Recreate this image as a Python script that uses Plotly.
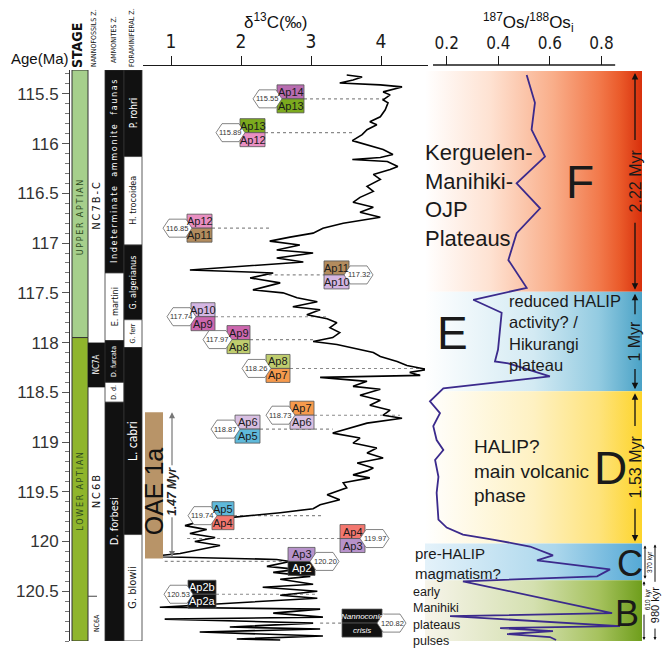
import plotly.graph_objects as go

W, H = 662, 650
SANS = "Liberation Sans, Arial, sans-serif"
NARROW = "Liberation Sans Narrow, Arial Narrow, DejaVu Sans Condensed, sans-serif"

# ---------------- data ----------------
age_ticks = [115.5, 116, 116.5, 117, 117.5, 118, 118.5, 119, 119.5, 120, 120.5]
age_labels = ["115.5", "116", "116.5", "117", "117.5", "118", "118.5", "119", "119.5", "120", "120.5"]
d13c_ticks = [1, 2, 3, 4]
os_ticks = [0.2, 0.4, 0.6, 0.8]
os_ticklabels = ["0.2", "0.4", "0.6", "0.8"]

# carbon-isotope record (age in Ma, delta13C in permil)
d13c_age = [115.31, 115.33, 115.36, 115.39, 115.41, 115.43, 115.48, 115.51, 115.56, 115.59,
            115.66, 115.73, 115.78, 115.81, 115.86, 115.91, 115.97, 116.01, 116.06, 116.11,
            116.14, 116.16, 116.18, 116.23, 116.26, 116.31, 116.36, 116.43, 116.48, 116.54,
            116.59, 116.64, 116.69, 116.74, 116.76, 116.80, 116.85, 116.90, 116.94, 116.98,
            117.02, 117.07, 117.10, 117.15, 117.19, 117.23, 117.27, 117.30, 117.35, 117.40,
            117.45, 117.47, 117.50, 117.55, 117.59, 117.64, 117.67, 117.72, 117.76, 117.80,
            117.85, 117.90, 117.95, 117.99, 118.02, 118.07, 118.10, 118.14, 118.19, 118.23,
            118.27, 118.30, 118.33, 118.35, 118.39, 118.44, 118.47, 118.53, 118.58, 118.63,
            118.68, 118.73, 118.76, 118.81, 118.86, 118.91, 118.96, 119.01, 119.06, 119.11,
            119.16, 119.21, 119.26, 119.29, 119.33, 119.36, 119.41, 119.46, 119.53, 119.58,
            119.63, 119.67, 119.71, 119.76, 119.80, 119.84, 119.88, 119.92, 119.96, 120.00,
            120.04, 120.08, 120.12, 120.15, 120.18, 120.20, 120.25, 120.28, 120.31, 120.35,
            120.38, 120.43, 120.46, 120.50, 120.54, 120.57, 120.61, 120.66, 120.68, 120.72,
            120.76, 120.78, 120.82, 120.86, 120.88, 120.91, 120.95, 120.98, 120.99]
d13c_val = [3.51, 3.73, 3.60, 3.41, 3.99, 4.30, 4.03, 4.13, 4.03, 4.10,
            4.06, 3.99, 3.84, 3.94, 3.80, 3.73, 3.59, 3.80, 4.03, 4.17,
            3.99, 3.59, 4.09, 4.24, 4.13, 3.89, 3.99, 3.80, 3.89, 3.70,
            3.60, 3.89, 3.70, 3.99, 3.80, 3.46, 3.17, 3.03, 2.70, 2.41,
            2.84, 2.51, 3.03, 2.51, 2.89, 2.09, 1.27, 2.46, 2.13, 2.56,
            2.27, 2.17, 2.60, 2.80, 3.09, 2.74, 3.13, 2.94, 3.23, 3.37,
            3.27, 3.41, 3.31, 3.03, 3.37, 3.70, 3.89, 3.99, 4.23, 4.37,
            4.66, 4.41, 4.56, 3.13, 3.80, 3.60, 3.99, 3.70, 3.99, 3.84,
            4.13, 4.03, 4.30, 3.80, 3.56, 3.31, 3.70, 3.60, 3.94, 3.80,
            4.03, 3.66, 3.89, 3.80, 3.60, 3.84, 3.46, 3.51, 3.23, 3.41,
            3.13, 3.03, 2.56, 1.84, 1.41, 1.20, 1.51, 1.27, 1.63, 1.34,
            1.70, 1.41, 1.13, 0.70, 2.51, 2.70, 2.37, 2.80, 2.46, 2.99,
            2.56, 3.03, 2.31, 3.09, 2.56, 3.09, 2.09, 0.84, 3.13, 2.46,
            3.17, 0.91, 3.03, 1.84, 3.13, 1.41, 3.17, 1.94, 2.56]

# initial osmium-isotope record
os_age = [115.31, 115.59, 115.86, 116.13, 116.40, 116.65, 116.90, 117.17, 117.45, 117.57,
          117.70, 117.90, 118.07, 118.19, 118.21, 118.34, 118.46, 118.59, 118.71, 118.84,
          118.98, 119.08, 119.18, 119.35, 119.51, 119.78, 119.86, 119.93, 119.98, 120.05,
          120.14, 120.19, 120.28, 120.35, 120.40, 120.72, 120.75, 120.85, 120.87, 120.90,
          120.93, 120.96, 120.99]
os_val = [0.510, 0.542, 0.529, 0.581, 0.471, 0.562, 0.471, 0.439, 0.510, 0.303,
          0.413, 0.407, 0.399, 0.387, 0.439, 0.600, 0.187, 0.135, 0.174, 0.148,
          0.161, 0.187, 0.155, 0.168, 0.161, 0.168, 0.200, 0.263, 0.379, 0.523,
          0.612, 0.550, 0.833, 0.783, 0.263, 0.841, 0.213, 0.872, 0.407, 0.612,
          0.434, 0.600, 0.624]

# volcanic phases
band_name = ["F", "E", "D", "C", "B"]
band_top = [115.27, 117.49, 118.49, 120.02, 120.39]
band_base = [117.49, 118.49, 120.02, 120.39, 121.0]
band_span = ["2.22 Myr", "1 Myr", "1.53 Myr", "370 kyr", "610 kyr"]
cb_span = "980 kyr"

# Aptian zone boundaries tied to the carbon-isotope curve
tie_age = [115.55, 115.89, 116.85, 117.32, 117.74, 117.97, 118.26, 118.73, 118.87,
           119.74, 119.97, 120.20, 120.53, 120.82]
tie_d13c = [4.09, 3.59, 2.41, 2.31, 3.23, 3.03, 4.66, 4.27, 3.31, 3.17, 1.23, 0.91, 3.09, 3.13]
zone_above = ["Ap14", "Ap13", "Ap12", "Ap11", "Ap10", "Ap9", "Ap8", "Ap7", "Ap6", "Ap5",
              "Ap4", "Ap3", "Ap2b", "Nannoconid"]
zone_below = ["Ap13", "Ap12", "Ap11", "Ap10", "Ap9", "Ap8", "Ap7", "Ap6", "Ap5", "Ap4",
              "Ap3", "Ap2", "Ap2a", "crisis"]

# biostratigraphy
stage_name = ["UPPER  APTIAN", "LOWER  APTIAN"]
stage_top = [115.26, 117.95]
stage_base = [117.95, 121.0]

nanno_name = ["NC7B-C", "NC7A", "NC6B", "NC6A"]
nanno_top = [115.26, 118.00, 118.45, 120.55]
nanno_base = [118.00, 118.45, 120.55, 121.0]

ammo_name = ["Indeterminate  ammonite  faunas", "E. martini", "D. furcata", "D. d.", "D. forbesi"]
ammo_top = [115.26, 117.30, 117.98, 118.40, 118.60]
ammo_base = [117.30, 117.98, 118.40, 118.60, 121.0]

foram_name = ["P. rohri", "H. trocoidea", "G. algerianus", "G. ferr", "L. cabri", "G. blowii"]
foram_top = [115.26, 116.13, 117.02, 117.77, 118.05, 119.93]
foram_base = [116.13, 117.02, 117.77, 118.05, 119.93, 121.0]

oae_top, oae_base = 118.70, 120.17
oae_span = "1.47 Myr"

# ---------------- layout constants ----------------
AGE_TOP, AGE_BOT = 115.26, 121.0
D_LO, D_HI = 0.6, 4.671
OS_LO, OS_HI = 0.1159, 0.957
PX_D = 70.0      # pixels per permil
PX_AGE = 99.5    # pixels per Myr


def fx(p):
    return p / W


def fy(p):
    return 1 - p / H


def spaced(s):
    return "\u2009".join(s).replace("\u2009 \u2009", "\u00a0\u00a0")


zone_color = {"Ap14": "#b86cb0", "Ap13": "#7caa1e", "Ap12": "#e98fc2", "Ap11": "#b38c5e",
              "Ap10": "#d4b6e3", "Ap9": "#cc67ae", "Ap8": "#bfcd6e", "Ap7": "#f69a4d",
              "Ap6": "#d8bfe2", "Ap5": "#5fb9da", "Ap4": "#f3776f", "Ap3": "#b792ca",
              "Ap2": "#111111", "Ap2b": "#111111", "Ap2a": "#111111",
              "Nannoconid": "#111111", "crisis": "#111111"}
box_left_px = [277, 240, 187, 324, 191, 227, 266, 290, 235, 212, 340, 288, 188, 342]
box_w_px = [27, 25, 25, 25, 24, 23, 24, 24, 25, 22, 25, 27, 28, 40]
tag_side = ["L", "L", "L", "R", "L", "L", "L", "L", "L", "L", "R", "R", "L", "R"]

band_scales = [
    [[0, "#ffffff"], [0.3, "#fee2d2"], [0.59, "#f9ae8a"], [0.8, "#f27a4c"], [0.9, "#ea5a2a"], [1, "#d8300c"]],
    [[0, "#ffffff"], [0.5, "#d3eaf3"], [0.8, "#93cbe1"], [1, "#4aa2c6"]],
    [[0, "#ffffff"], [0.5, "#fef1c2"], [0.8, "#fee37c"], [1, "#fdd42a"]],
    [[0, "#e4f2fa"], [0.6, "#acd7ec"], [1, "#55a9d6"]],
    [[0, "#f7f4ea"], [0.5, "#d4e0b0"], [0.8, "#a6c25e"], [1, "#6f9e1c"]],
]

fig = go.Figure()

# coloured phase bands
for t, b, cs in zip(band_top, band_base, band_scales):
    fig.add_trace(go.Scatter(
        x=[OS_LO, OS_HI, OS_HI, OS_LO, OS_LO], y=[t, t, b, b, t],
        xaxis="x2", yaxis="y", mode="lines", line=dict(width=0),
        fill="toself", fillgradient=dict(type="horizontal", colorscale=cs),
        hoverinfo="skip"))

# osmium curve
fig.add_trace(go.Scatter(x=os_val, y=os_age, xaxis="x2", yaxis="y", mode="lines",
                         line=dict(color="#3b2a8c", width=1.8), hoverinfo="skip"))

# carbon-isotope curve
fig.add_trace(go.Scatter(x=d13c_val, y=d13c_age, xaxis="x", yaxis="y", mode="lines",
                         line=dict(color="#000000", width=1.6), hoverinfo="skip"))

shapes = []
ann = []


def note(**kw):
    kw.setdefault("xanchor", "center")
    kw.setdefault("yanchor", "middle")
    kw.setdefault("showarrow", False)
    ann.append(kw)


def column(x0, x1, tops, bases, names, fills, sizes, italic=False):
    for t, b, n, f, s in zip(tops, bases, names, fills, sizes):
        shapes.append(dict(type="rect", xref="paper", yref="y", x0=fx(x0), x1=fx(x1), y0=t, y1=b,
                           fillcolor=f, line=dict(color="#333333", width=0.8), layer="above"))
        dark = f in ("#000000", "#111111", "black")
        txt = "<i>%s</i>" % n if italic else n
        note(xref="paper", yref="y", x=fx((x0 + x1) / 2), y=(t + b) / 2, text=txt, textangle=-90,
             font=dict(family=NARROW, size=s, color="#ffffff" if dark else "#111111"))


# stage column
for t, b, n, f in zip(stage_top, stage_base, stage_name, ["#a6cf8c", "#8fb52c"]):
    shapes.append(dict(type="rect", xref="paper", yref="y", x0=fx(72), x1=fx(88), y0=t, y1=b,
                       fillcolor=f, line=dict(color="#333333", width=1), layer="above"))
note(xref="paper", yref="y", x=fx(80), y=116.75, text=spaced("UPPER APTIAN"), textangle=-90,
     font=dict(family=NARROW, size=9, color="#2d4a20"))
note(xref="paper", yref="y", x=fx(80), y=119.5, text=spaced("LOWER APTIAN"), textangle=-90,
     font=dict(family=NARROW, size=9, color="#2d4a20"))

# nannofossil zones
for t, b, n, f, s in zip(nanno_top, nanno_base, nanno_name,
                         ["#ffffff", "#111111", "#ffffff", "#ffffff"], [11, 8, 11, 7]):
    if f != "#ffffff":
        shapes.append(dict(type="rect", xref="paper", yref="y", x0=fx(88), x1=fx(105), y0=t, y1=b,
                           fillcolor=f, line=dict(width=0), layer="above"))
    note(xref="paper", yref="y", x=fx(96.5), y=(t + b) / 2 if n != "NC6A" else (t + b) / 2 + 0.05,
         text=spaced(n) if s > 8 else n, textangle=-90,
         font=dict(family=NARROW, size=s, color="#ffffff" if f != "#ffffff" else "#111111"))
shapes.append(dict(type="line", xref="paper", yref="y", x0=fx(88), x1=fx(105), y0=nanno_top[3], y1=nanno_top[3],
                   line=dict(color="#444444", width=1, dash="dash"), layer="above"))

# ammonite and foraminiferal zones
column(105, 124, ammo_top, ammo_base, [spaced(n) for n in ammo_name[:1]] + ammo_name[1:],
       ["#111111", "#ffffff", "#111111", "#ffffff", "#111111"], [9, 9, 7, 7, 11])
column(124, 142, foram_top, foram_base, foram_name,
       ["#111111", "#ffffff", "#111111", "#ffffff", "#111111", "#ffffff"], [10, 9, 9, 7, 12, 11])

# column headers
note(xref="paper", yref="paper", x=fx(77), y=fy(46), text="<b>STAGE</b>", textangle=-90,
     font=dict(family=NARROW, size=14, color="#111"))
for xp, yp, t in [(94, 38, "NANNOFOSSILS Z."), (114, 40, "AMMONITES Z."), (132, 38, "FORAMINIFERAL Z.")]:
    note(xref="paper", yref="paper", x=fx(xp), y=fy(yp), text=t, textangle=-90,
         font=dict(family=NARROW, size=7, color="#111"))
note(xref="paper", yref="paper", x=fx(40), y=fy(59), text="Age(Ma)",
     font=dict(family=SANS, size=15, color="#111"))

# axis titles
note(xref="paper", yref="paper", x=fx(275), y=fy(21), text="\u03b4<sup>13</sup>C(\u2030)",
     font=dict(family=SANS, size=17, color="#111"))
note(xref="paper", yref="paper", x=fx(528), y=fy(22),
     text="<sup>187</sup>Os/<sup>188</sup>Os<sub>i</sub>",
     font=dict(family=SANS, size=17, color="#111"))
shapes.append(dict(type="line", xref="x2", yref="paper", x0=0.147, x1=0.853, y0=fy(65), y1=fy(65),
                   line=dict(color="#1a1a1a", width=1.3)))

# OAE 1a
shapes.append(dict(type="rect", xref="x", yref="y", x0=D_LO + 2 / PX_D, x1=D_LO + 20 / PX_D,
                   y0=oae_top, y1=oae_base, fillcolor="#b89468", line=dict(width=0), layer="above"))
note(xref="x", yref="y", x=D_LO + 11 / PX_D, y=(oae_top + oae_base) / 2 + 0.06, text="OAE 1a",
     textangle=-90, font=dict(family=SANS, size=25, color="#111"))
x_oae_arrow = D_LO + 29 / PX_D
ann.append(dict(xref="x", yref="y", x=x_oae_arrow, y=oae_top, ax=x_oae_arrow, ay=oae_base,
                axref="x", ayref="y", text="", showarrow=True, arrowhead=2, arrowside="end+start",
                arrowsize=1, arrowwidth=1.2, arrowcolor="#777777"))
note(xref="x", yref="y", x=x_oae_arrow, y=119.5, text="<b><i>%s</i></b>" % oae_span,
     textangle=-90, bgcolor="#ffffff", font=dict(family=SANS, size=12, color="#222"))

# zone-boundary tags
HB = 14 / PX_AGE      # half box height
HT = 9 / PX_AGE       # half tag height
for i in range(len(tie_age)):
    yc = tie_age[i]
    bl = 1 + (box_left_px[i] - 171) / PX_D
    br = bl + box_w_px[i] / PX_D
    ta, tb = zone_above[i], zone_below[i]
    # tie line to the curve
    if tag_side[i] == "L":
        lx0, lx1 = br, tie_d13c[i]
    else:
        lx0, lx1 = tie_d13c[i], bl
    shapes.append(dict(type="line", xref="x", yref="y", x0=lx0, x1=lx1, y0=yc, y1=yc,
                       line=dict(color="#8a8a8a", width=1.1, dash="dot"), layer="below"))
    for nm, y0, y1 in [(ta, yc - HB, yc), (tb, yc, yc + HB)]:
        col = zone_color[nm]
        shapes.append(dict(type="rect", xref="x", yref="y", x0=bl, x1=br, y0=y0, y1=y1,
                           fillcolor=col, line=dict(color="#555555", width=0.8), layer="above"))
        dark = col == "#111111"
        label = "<i>%s</i>" % nm if i == len(tie_age) - 1 else nm
        note(xref="x", yref="y", x=(bl + br) / 2, y=(y0 + y1) / 2, text=label,
             font=dict(family=SANS, size=8 if i == len(tie_age) - 1 else 11,
                       color="#ffffff" if dark else "#1a1a1a"))
    d24, d18, d1 = 24 / PX_D, 18 / PX_D, 1 / PX_D
    if tag_side[i] == "L":
        pts = [(bl - d24, yc), (bl - d18, yc - HT), (bl - d1, yc - HT), (bl + 5 / PX_D, yc),
               (bl - d1, yc + HT), (bl - d18, yc + HT)]
        tx = bl - 10 / PX_D
    else:
        pts = [(br + d24, yc), (br + d18, yc - HT), (br + d1, yc - HT), (br - 5 / PX_D, yc),
               (br + d1, yc + HT), (br + d18, yc + HT)]
        tx = br + 10 / PX_D
    path = "M " + " L ".join("%.4f,%.4f" % p for p in pts) + " Z"
    shapes.append(dict(type="path", xref="x", yref="y", path=path, fillcolor="#ffffff",
                       line=dict(color="#666666", width=0.8), layer="above"))
    note(xref="x", yref="y", x=tx, y=yc, text="%.2f" % yc,
         font=dict(family=SANS, size=7.5, color="#333"))

# phase letters and descriptions
for nm, xp, yp, s in [("F", 580, 182, 46), ("E", 452, 333, 46), ("D", 610, 468, 46),
                      ("C", 630, 563, 36), ("B", 627, 613, 36)]:
    note(xref="paper", yref="paper", x=fx(xp), y=fy(yp), text=nm,
         font=dict(family=SANS, size=s, color="#1a1a1a"))
for txt, xp, yp, s in [("Kerguelen-<br>Manihiki-<br>OJP<br>Plateaus", 423, 138, 22),
                       ("reduced HALIP<br>activity? /<br>Hikurangi<br>plateau", 507, 290, 16.5),
                       ("HALIP?<br>main volcanic<br>phase", 472, 434, 19),
                       ("pre-HALIP<br>magmatism?", 413, 543, 15),
                       ("early<br>Manihiki<br>plateaus<br>pulses", 411, 583, 12.5)]:
    note(xref="paper", yref="paper", x=fx(xp), y=fy(yp), text=txt,
         xanchor="left", yanchor="top", align="left",
         font=dict(family=SANS, size=s, color="#1a1a1a"))

# durations of the phases
x_dur = fx(635)
for t, b, span, half in zip(band_top[:3], band_base[:3], band_span[:3], [0.40, 0.26, 0.40]):
    c = (t + b) / 2
    note(xref="paper", yref="y", x=x_dur, y=c, text=span, textangle=-90,
         font=dict(family=SANS, size=16, color="#1a1a1a"))
    for head, tail in [(t + 0.02, c - half), (b - 0.02, c + half)]:
        ann.append(dict(xref="paper", yref="y", x=x_dur, y=head, ax=0, ay=tail, axref="pixel", ayref="y",
                        text="", showarrow=True, arrowhead=2, arrowsize=1, arrowwidth=1.3,
                        arrowcolor="#111"))


def arrow(xp, head, tail, both=False):
    ann.append(dict(xref="paper", yref="y", x=fx(xp), y=head, ax=0, ay=tail, axref="pixel", ayref="y",
                    text="", showarrow=True, arrowhead=2, arrowside="end+start" if both else "end",
                    arrowsize=0.6, arrowwidth=1, arrowcolor="#111"))


# C and B durations
note(xref="paper", yref="y", x=fx(650), y=(band_top[3] + band_base[3]) / 2, text=band_span[3],
     textangle=-90, font=dict(family=SANS, size=6.5, color="#111"))
arrow(645, band_top[3] + 0.02, band_base[3], both=True)
note(xref="paper", yref="y", x=fx(648), y=120.58, text=band_span[4],
     textangle=-90, font=dict(family=SANS, size=6.5, color="#111"))
arrow(644, band_top[4] + 0.01, 120.46)
arrow(644, band_base[4] - 0.01, 120.72)
note(xref="paper", yref="y", x=fx(655), y=120.64, text=cb_span,
     textangle=-90, font=dict(family=SANS, size=11, color="#111"))
arrow(655, band_top[3] + 0.01, 120.42)
arrow(655, band_base[4] - 0.01, 120.86)

fig.update_layout(
    width=W, height=H, margin=dict(l=0, r=0, t=0, b=0),
    paper_bgcolor="#ffffff", plot_bgcolor="rgba(0,0,0,0)", showlegend=False,
    shapes=shapes, annotations=ann,
    xaxis=dict(domain=[fx(143), fx(428)], range=[D_LO, D_HI], side="top", anchor="free",
               position=fy(65), showline=True, linecolor="#1a1a1a", linewidth=1.3,
               ticks="outside", ticklen=9, tickwidth=1.3, tickcolor="#1a1a1a",
               tickvals=d13c_ticks, ticktext=[str(v) for v in d13c_ticks],
               tickfont=dict(family=NARROW, size=19, color="#1a1a1a"),
               showgrid=False, zeroline=False, automargin=False),
    xaxis2=dict(domain=[fx(425), fx(642)], range=[OS_LO, OS_HI], side="top", anchor="free",
                position=fy(65), showline=False, ticks="outside", ticklen=9, tickwidth=1.3,
                tickcolor="#1a1a1a", tickvals=os_ticks, ticktext=os_ticklabels,
                tickfont=dict(family=NARROW, size=17, color="#1a1a1a"),
                showgrid=False, zeroline=False, automargin=False),
    yaxis=dict(domain=[fy(641), fy(70)], range=[AGE_BOT, AGE_TOP], anchor="free", position=fx(69),
               showline=True, linecolor="#333333", linewidth=1, ticks="outside", ticklen=7,
               tickcolor="#555555", tickvals=age_ticks, ticktext=age_labels,
               tickfont=dict(family=SANS, size=17, color="#333333"),
               minor=dict(tickmode="linear", tick0=115.5, dtick=0.1, ticks="outside", ticklen=4,
                          tickcolor="#777777"),
               showgrid=False, zeroline=False, automargin=False),
)

fig.write_html("out.html")
